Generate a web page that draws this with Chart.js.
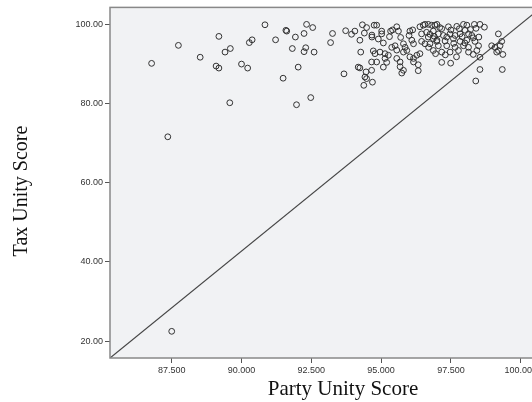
<!DOCTYPE html>
<html>
<head>
<meta charset="utf-8">
<script src="https://cdn.jsdelivr.net/npm/chart.js@4/dist/chart.umd.min.js"></script>
<style>
  html, body { margin: 0; padding: 0; background: #fff; overflow: hidden; }
  #wrap { width: 532px; height: 402px; overflow: hidden; }
</style>
</head>
<body>
<div id="wrap"><canvas id="chart" width="590" height="402"></canvas></div>
<script>
// Party unity score (x) and tax unity score (y)
const partyScore = [
  86.78, 87.74, 88.52, 89.19, 89.41, 89.60, 89.09, 89.19, 90.00, 90.22, 90.28, 90.38, 89.58, 87.36, 87.50,
  90.84, 91.22, 91.59, 91.62, 91.93, 91.82, 92.33, 92.55, 92.24, 92.30, 92.24, 92.60, 92.03, 91.49, 92.48,
  91.97, 93.26, 93.19, 93.73, 93.94, 94.06, 93.67,
  94.33, 94.48, 94.75, 94.84, 94.67, 94.67, 95.02, 95.02, 95.34, 95.41, 95.56, 95.62, 96.03, 96.13, 96.39,
  96.51, 96.57, 96.69, 96.81, 96.93, 96.45, 96.63, 96.75, 96.87, 96.69, 96.87, 94.24, 95.08, 94.27, 94.72,
  94.78, 94.96, 95.14, 95.26, 95.38, 95.50, 95.56, 95.80, 95.86, 95.80, 95.92, 96.10, 96.16, 96.03, 96.16,
  96.28, 96.39, 96.45, 96.57, 96.75, 96.99, 96.87, 94.66, 94.84, 95.14, 95.20, 95.56, 95.68, 95.68, 95.80,
  96.33, 96.33, 94.18, 94.24, 94.46, 94.42, 94.48, 94.66, 94.69, 94.38, 95.08, 95.74, 96.16,
  97.00, 97.17, 97.41, 97.71, 97.95, 98.07, 98.01, 98.34, 98.54, 98.70, 97.05, 97.23, 97.47, 97.65, 97.83,
  98.13, 98.25, 97.00, 97.29, 97.59, 97.83, 98.07, 98.36, 97.05, 97.35, 97.65, 97.95, 98.13, 98.49, 97.17,
  97.47, 97.77, 98.13, 98.43, 97.17, 97.49, 99.20, 98.96, 99.08, 99.26, 99.32, 99.20, 99.14, 99.36, 98.54,
  98.54, 99.34, 98.39,
  97.10, 97.50, 97.80, 98.20, 98.40, 96.90, 97.35, 97.90, 98.30, 96.70, 97.60, 98.00, 98.50, 96.95, 97.30,
  98.30, 97.70, 94.40, 94.90, 95.30, 95.70, 96.00
];
const taxScore = [
  90.15, 94.70, 91.70, 96.97, 93.00, 93.90, 89.47, 88.96, 89.97, 88.96, 95.40, 96.10, 80.20, 71.60, 22.45,
  99.90, 96.10, 98.50, 98.30, 96.80, 93.90, 100.00, 99.20, 97.70, 94.10, 93.10, 93.00, 89.20, 86.40, 81.50,
  79.70, 97.70, 95.40, 98.40, 97.50, 98.30, 87.50,
  99.90, 99.20, 99.80, 99.80, 97.30, 96.80, 98.30, 97.60, 98.30, 98.60, 99.40, 98.30, 98.30, 98.60, 99.40,
  99.80, 100.00, 100.00, 99.80, 99.80, 97.60, 98.00, 97.50, 98.30, 96.80, 96.40, 96.00, 95.30, 93.00, 93.30,
  92.60, 93.00, 92.60, 92.20, 94.20, 94.60, 93.50, 95.10, 94.20, 93.00, 93.40, 96.00, 95.10, 91.80, 91.40,
  92.20, 92.60, 95.70, 95.10, 95.10, 95.70, 93.40, 90.50, 90.50, 91.40, 90.40, 91.40, 90.50, 89.30, 88.40,
  89.80, 88.30, 89.20, 89.00, 88.00, 86.70, 86.30, 88.40, 85.40, 84.60, 89.20, 87.70, 90.50,
  100.00, 98.90, 99.40, 99.50, 100.00, 99.80, 98.50, 100.00, 100.00, 99.30, 97.60, 97.20, 97.60, 97.20, 97.60,
  97.60, 97.20, 96.00, 95.80, 96.40, 95.70, 96.00, 95.70, 94.60, 94.60, 94.20, 94.60, 94.20, 94.60, 93.00,
  93.00, 93.40, 93.00, 93.40, 90.40, 90.20, 97.60, 94.60, 94.20, 94.60, 95.70, 93.40, 93.00, 92.40, 91.70,
  88.60, 88.60, 85.70,
  99.20, 98.60, 98.90, 98.70, 99.00, 97.00, 96.80, 96.90, 96.60, 94.20, 95.20, 95.30, 96.80, 92.60, 92.30,
  92.40, 91.80, 97.80, 96.30, 96.90, 96.70, 97.20
];

// reference line end points (data units)
const refLineX = [85.29, 100.74];
const refLineY = [15.71, 104.29];

const xTicks = [87.5, 90, 92.5, 95, 97.5, 100];
const yTicks = [20, 40, 60, 80, 100];

const points = partyScore.map((x, i) => ({ x: x, y: taxScore[i] }));
const refLine = refLineX.map((x, i) => ({ x: x, y: refLineY[i] }));

const plotFrame = {
  id: "plotFrame",
  beforeDatasetsDraw(chart) {
    const { ctx, chartArea: a } = chart;
    ctx.save();
    ctx.fillStyle = "#f1f2f4";
    ctx.fillRect(a.left, a.top, a.right - a.left, a.bottom - a.top);
    ctx.restore();
  },
  afterDraw(chart) {
    const { ctx, chartArea: a } = chart;
    ctx.save();
    ctx.strokeStyle = "#888";
    ctx.lineWidth = 1.5;
    ctx.strokeRect(a.left, a.top, a.right - a.left, a.bottom - a.top);

    ctx.fillStyle = "#111";
    ctx.textAlign = "center";
    ctx.textBaseline = "alphabetic";
    ctx.font = "21px 'Liberation Serif', 'Times New Roman', serif";
    ctx.fillText("Party Unity Score", 343, 395);

    ctx.font = "20px 'Liberation Serif', 'Times New Roman', serif";
    ctx.translate(27, 191);
    ctx.rotate(-Math.PI / 2);
    ctx.fillText("Tax Unity Score", 0, 0);
    ctx.restore();
  }
};

const tickFont = { family: "'Liberation Sans', Arial, sans-serif", size: 9 };

new Chart(document.getElementById("chart"), {
  type: "scatter",
  data: {
    datasets: [
      {
        data: points,
        pointRadius: 2.9,
        pointBorderWidth: 1,
        pointBorderColor: "#333",
        pointBackgroundColor: "rgba(0,0,0,0)",
        order: 1
      },
      {
        type: "line",
        data: refLine,
        borderColor: "#444",
        borderWidth: 1.2,
        pointRadius: 0,
        fill: false,
        order: 2
      }
    ]
  },
  options: {
    responsive: false,
    animation: false,
    events: [],
    layout: { padding: { left: 0, top: 7, right: 14, bottom: 0 } },
    plugins: { legend: { display: false }, tooltip: { enabled: false } },
    scales: {
      x: {
        type: "linear",
        min: 85.29,
        max: 101.98,
        afterFit: s => { s.height = 44; },
        afterBuildTicks: s => { s.ticks = xTicks.map(v => ({ value: v })); },
        grid: { drawOnChartArea: false, drawTicks: true, tickLength: 5, color: "#555" },
        border: { display: false },
        ticks: {
          autoSkip: false,
          maxRotation: 0,
          padding: 2,
          color: "#333",
          font: tickFont,
          callback: v => Number(v).toFixed(3)
        }
      },
      y: {
        type: "linear",
        min: 15.71,
        max: 104.29,
        afterFit: s => { s.width = 110; },
        afterBuildTicks: s => { s.ticks = yTicks.map(v => ({ value: v })); },
        grid: { drawOnChartArea: false, drawTicks: true, tickLength: 5, color: "#555" },
        border: { display: false },
        ticks: {
          autoSkip: false,
          padding: 2,
          color: "#333",
          font: tickFont,
          callback: v => Number(v).toFixed(2)
        }
      }
    }
  },
  plugins: [plotFrame]
});
</script>
</body>
</html>
